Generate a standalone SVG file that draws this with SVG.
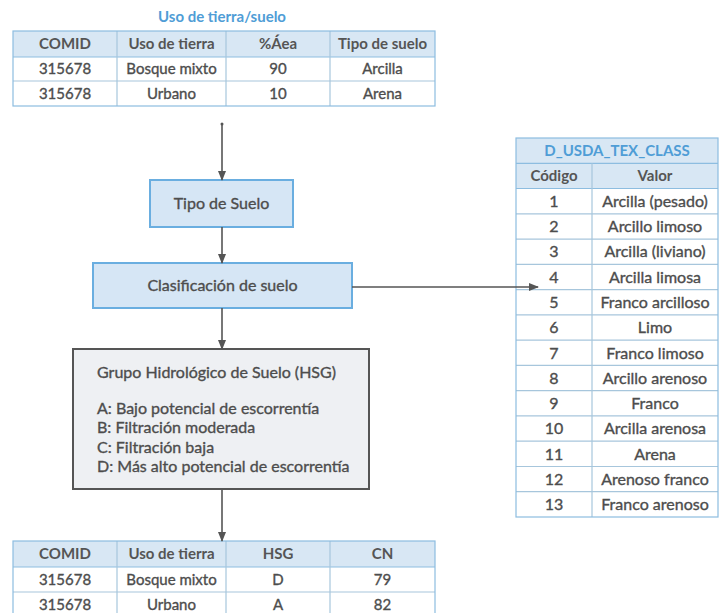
<svg xmlns="http://www.w3.org/2000/svg" width="720" height="613" viewBox="0 0 720 613">
<defs>
<marker id="ah" markerWidth="10" markerHeight="8" refX="9" refY="4" orient="auto" markerUnits="userSpaceOnUse">
<path d="M0,0 L10,4 L0,8 Z" fill="#555"/>
</marker>
<style>
text{font-family:Lato,"Liberation Sans",sans-serif;fill:#4d4d4d;}
.c,.r,.bt,.hsg{stroke:#4d4d4d;stroke-width:0.35;}
.c{text-anchor:middle;font-size:15px;}
.r{text-anchor:middle;font-size:16px;}
.h{text-anchor:middle;font-size:15px;font-weight:bold;fill:#555;}
.tt{text-anchor:middle;font-size:15px;font-weight:bold;fill:#4f9dd6;}
.bt{text-anchor:middle;font-size:16px;}
.hdr{fill:#d8e7f4;}
.ln{stroke:#8dbde0;stroke-width:1.2;fill:none;}
.rl{stroke:#a7c6dc;stroke-width:1.2;}
.box{fill:#d6e6f5;stroke:#6aaee0;stroke-width:2;}
.gbox{fill:#eef0f3;stroke:#555;stroke-width:2;}
.con{stroke:#555;stroke-width:1.6;fill:none;}
.hsg{font-size:16px;}
</style>
</defs>

<g id="tabla-uso">
<text class="tt" x="222" y="22">Uso de tierra/suelo</text>
<rect class="hdr" x="13" y="31" width="422" height="26"/>
<rect x="13" y="57" width="422" height="49" fill="#fff"/>
<line class="rl" x1="13" y1="81" x2="435" y2="81"/>
<line class="ln" x1="13" y1="57" x2="435" y2="57"/>
<line class="rl" x1="117" y1="31" x2="117" y2="106"/>
<line class="rl" x1="226" y1="31" x2="226" y2="106"/>
<line class="rl" x1="330" y1="31" x2="330" y2="106"/>
<rect class="ln" x="13" y="31" width="422" height="75"/>
<text class="h" x="65" y="49">COMID</text>
<text class="h" x="171.5" y="49">Uso de tierra</text>
<text class="h" x="278" y="49">%Áea</text>
<text class="h" x="382.5" y="49">Tipo de suelo</text>
<text class="c" x="65" y="74">315678</text>
<text class="c" x="171.5" y="74">Bosque mixto</text>
<text class="c" x="278" y="74">90</text>
<text class="c" x="382.5" y="74">Arcilla</text>
<text class="c" x="65" y="99">315678</text>
<text class="c" x="171.5" y="99">Urbano</text>
<text class="c" x="278" y="99">10</text>
<text class="c" x="382.5" y="99">Arena</text>
</g>

<g id="tipo-suelo">
<rect class="box" x="150" y="180" width="143" height="47"/>
<text class="bt" x="221.5" y="209">Tipo de Suelo</text>
</g>

<g id="clasificacion">
<rect class="box" x="93" y="263" width="259" height="45"/>
<text class="bt" x="222.5" y="291">Clasificación de suelo</text>
</g>

<g id="hsg">
<rect class="gbox" x="73" y="349" width="296" height="140"/>
<text class="hsg" x="97" y="378">Grupo Hidrológico de Suelo (HSG)</text>
<text class="hsg" x="97" y="414">A: Bajo potencial de escorrentía</text>
<text class="hsg" x="97" y="433">B: Filtración moderada</text>
<text class="hsg" x="97" y="453">C: Filtración baja</text>
<text class="hsg" x="97" y="472">D: Más alto potencial de escorrentía</text>
</g>

<g id="tabla-cn">
<rect class="hdr" x="13" y="541" width="422" height="26"/>
<rect x="13" y="567" width="422" height="50" fill="#fff"/>
<line class="rl" x1="13" y1="592" x2="435" y2="592"/>
<line class="ln" x1="13" y1="567" x2="435" y2="567"/>
<line class="rl" x1="117" y1="541" x2="117" y2="617"/>
<line class="rl" x1="226" y1="541" x2="226" y2="617"/>
<line class="rl" x1="330" y1="541" x2="330" y2="617"/>
<rect class="ln" x="13" y="541" width="422" height="76"/>
<text class="h" x="65" y="559">COMID</text>
<text class="h" x="171.5" y="559">Uso de tierra</text>
<text class="h" x="278" y="559">HSG</text>
<text class="h" x="382.5" y="559">CN</text>
<text class="c" x="65" y="585">315678</text>
<text class="c" x="171.5" y="585">Bosque mixto</text>
<text class="c" x="278" y="585">D</text>
<text class="c" x="382.5" y="585">79</text>
<text class="c" x="65" y="610">315678</text>
<text class="c" x="171.5" y="610">Urbano</text>
<text class="c" x="278" y="610">A</text>
<text class="c" x="382.5" y="610">82</text>
</g>

<g id="tabla-usda">
<rect class="hdr" x="516" y="138" width="202" height="50.5"/>
<rect x="516" y="188.5" width="202" height="328.5" fill="#fff"/>
<line class="ln" x1="516" y1="163.3" x2="718" y2="163.3"/>
<line class="ln" x1="516" y1="188.5" x2="718" y2="188.5"/>
<g class="rl">
<line x1="516" y1="213.8" x2="718" y2="213.8"/>
<line x1="516" y1="239.1" x2="718" y2="239.1"/>
<line x1="516" y1="264.3" x2="718" y2="264.3"/>
<line x1="516" y1="289.6" x2="718" y2="289.6"/>
<line x1="516" y1="314.9" x2="718" y2="314.9"/>
<line x1="516" y1="340.1" x2="718" y2="340.1"/>
<line x1="516" y1="365.4" x2="718" y2="365.4"/>
<line x1="516" y1="390.7" x2="718" y2="390.7"/>
<line x1="516" y1="415.9" x2="718" y2="415.9"/>
<line x1="516" y1="441.2" x2="718" y2="441.2"/>
<line x1="516" y1="466.5" x2="718" y2="466.5"/>
<line x1="516" y1="491.7" x2="718" y2="491.7"/>
<line x1="592" y1="163.3" x2="592" y2="517"/>
</g>
<rect class="ln" x="516" y="138" width="202" height="379"/>
<text class="tt" x="617" y="156">D_USDA_TEX_CLASS</text>
<text class="h" x="554" y="181">Código</text>
<text class="h" x="655" y="181">Valor</text>
<text class="r" x="554" y="207">1</text><text class="r" x="655" y="207">Arcilla (pesado)</text>
<text class="r" x="554" y="232">2</text><text class="r" x="655" y="232">Arcillo limoso</text>
<text class="r" x="554" y="257">3</text><text class="r" x="655" y="257">Arcilla (liviano)</text>
<text class="r" x="554" y="283">4</text><text class="r" x="655" y="283">Arcilla limosa</text>
<text class="r" x="554" y="308">5</text><text class="r" x="655" y="308">Franco arcilloso</text>
<text class="r" x="554" y="333">6</text><text class="r" x="655" y="333">Limo</text>
<text class="r" x="554" y="359">7</text><text class="r" x="655" y="359">Franco limoso</text>
<text class="r" x="554" y="384">8</text><text class="r" x="655" y="384">Arcillo arenoso</text>
<text class="r" x="554" y="409">9</text><text class="r" x="655" y="409">Franco</text>
<text class="r" x="554" y="434">10</text><text class="r" x="655" y="434">Arcilla arenosa</text>
<text class="r" x="554" y="460">11</text><text class="r" x="655" y="460">Arena</text>
<text class="r" x="554" y="485">12</text><text class="r" x="655" y="485">Arenoso franco</text>
<text class="r" x="554" y="510">13</text><text class="r" x="655" y="510">Franco arenoso</text>
</g>

<g id="conectores">
<circle cx="222" cy="124" r="1.5" fill="#555"/>
<line class="con" x1="222" y1="124" x2="222" y2="180" marker-end="url(#ah)"/>
<line class="con" x1="222" y1="227" x2="222" y2="263" marker-end="url(#ah)"/>
<line class="con" x1="222" y1="308" x2="222" y2="349" marker-end="url(#ah)"/>
<line class="con" x1="222" y1="489" x2="222" y2="541" marker-end="url(#ah)"/>
<line class="con" x1="352" y1="287" x2="538" y2="287" marker-end="url(#ah)"/>
</g>
</svg>
